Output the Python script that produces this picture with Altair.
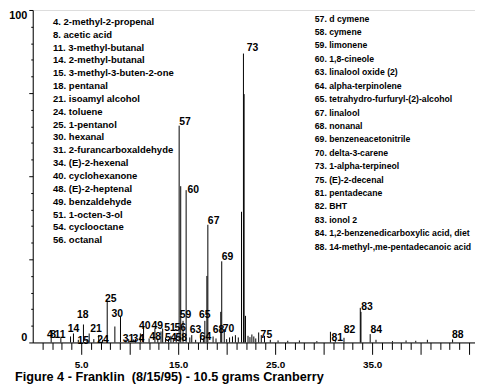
import altair as alt
import pandas as pd

# ---- data (retention time in minutes, relative abundance %) ----
peak_rt = [1.9, 2.9, 3.9, 4.2, 4.7, 5.23, 5.6, 5.82, 6.3, 6.8, 7.2, 7.68, 8.47, 9.05,
           9.6, 9.9, 10.6, 11.1, 11.43, 12.0, 12.6, 12.9, 13.23, 13.4, 13.7, 14.0,
           14.25, 14.5, 14.8, 15.1, 15.26, 15.5, 15.82, 16.2, 16.4, 16.8, 17.3, 17.6,
           17.75, 17.96, 18.06, 18.6, 18.9, 19.39, 19.49, 19.75, 20.0, 20.3, 20.6,
           20.9, 21.2, 21.53, 21.73, 21.8, 21.94, 22.2, 22.4, 22.6, 22.8, 23.0, 23.3,
           23.57, 23.9, 24.5, 25.3, 26.3, 27.5, 29.3, 30.7, 31.2, 32.1, 33.78, 33.85,
           34.8, 35.4, 37.1, 38.5, 39.5, 40.7, 43.3]
peak_h = [1.5, 1.3, 1.8, 2.7, 0.8, 5.4, 0.8, 2.7, 1.0, 2.2, 0.8, 12.6, 4.8, 7.7,
          0.8, 1.0, 1.0, 2.7, 4.8, 1.2, 4.2, 1.2, 3.3, 4.2, 1.5, 1.0,
          2.0, 1.2, 2.2, 65.2, 47.0, 6.5, 45.8, 1.5, 2.2, 0.8, 1.8, 1.2,
          6.5, 20.0, 35.4, 1.8, 1.2, 9.2, 24.4, 4.0, 1.0, 1.5, 1.8,
          2.2, 1.5, 39.3, 86.9, 74.7, 8.0, 2.0, 1.6, 2.4, 1.8, 1.2, 3.0,
          2.2, 2.0, 0.8, 0.6, 0.5, 0.6, 0.4, 3.2, 0.6, 1.4, 10.4, 9.2,
          2.5, 0.8, 0.4, 0.6, 0.5, 0.8, 0.9]

label_txt = ["4", "8", "11", "14", "15", "18", "21", "24", "25", "30", "31", "34",
             "40", "48", "49", "51", "54", "56", "57", "58", "59", "60", "63", "64",
             "65", "67", "68", "69", "70", "73", "75", "81", "82", "83", "84", "88"]
label_rt = [1.46, 1.8, 2.24, 3.6, 4.62, 4.56, 5.92, 6.66, 7.45, 8.13, 9.29, 10.3,
            10.95, 12.04, 12.25, 13.57, 13.64, 14.62, 15.1, 14.72, 15.17, 15.95, 16.19, 17.21,
            17.14, 18.06, 18.57, 19.49, 19.6, 22.07, 23.5, 30.8, 32.07, 33.88, 34.83, 43.23]
label_lvl = [1.2, 1.2, 1.2, 3.0, -0.5, 7.4, 3.0, -0.3, 12.3, 7.8, 0.2, 0.2,
             4.0, 0.7, 4.0, 3.5, 0.4, 3.5, 65.5, 0.4, 7.3, 45.1, 2.7, 0.7,
             7.3, 35.7, 2.7, 24.8, 3.0, 87.7, 1.4, 0.4, 2.7, 9.8, 2.7, 1.2]

legend_left = ["4. 2-methyl-2-propenal", "8. acetic acid", "11. 3-methyl-butanal",
               "14. 2-methyl-butanal", "15. 3-methyl-3-buten-2-one", "18. pentanal",
               "21. isoamyl alcohol", "24. toluene", "25. 1-pentanol", "30. hexanal",
               "31. 2-furancarboxaldehyde", "34. (E)-2-hexenal", "40. cyclohexanone",
               "48. (E)-2-heptenal", "49. benzaldehyde", "51. 1-octen-3-ol",
               "54. cyclooctane", "56. octanal"]
legend_right = ["57. d cymene", "58. cymene", "59. limonene", "60. 1,8-cineole",
                "63. linalool oxide (2)", "64. alpha-terpinolene",
                "65. tetrahydro-furfuryl-(2)-alcohol", "67. linalool", "68. nonanal",
                "69. benzeneacetonitrile", "70. delta-3-carene", "73. 1-alpha-terpineol",
                "75. (E)-2-decenal", "81. pentadecane", "82. BHT", "83. ionol 2",
                "84. 1,2-benzenedicarboxylic acid, diet",
                "88. 14-methyl-,me-pentadecanoic acid"]

caption = "Figure 4 - Franklin \u00a0(8/15/95) - 10.5 grams Cranberry"

x_ticks = list(range(1, 46))
x_labelled = [5, 15, 25, 35]
y_ticks = list(range(0, 101, 5))

# ---- chart ----
FONT = "Liberation Sans, Arial, sans-serif"
W, H = 447, 336
XMAX = 45.61

xs = alt.Scale(domain=[0, XMAX], nice=False, zero=False)
ys = alt.Scale(domain=[0, 100], nice=False, zero=False)

peaks_df = pd.DataFrame({"rt": peak_rt, "h": peak_h})
labels_df = pd.DataFrame({"id": label_txt, "rt": label_rt, "lvl": label_lvl})
legL_df = pd.DataFrame({"t": legend_left, "row": list(range(len(legend_left))), "col": 0})
legR_df = pd.DataFrame({"t": legend_right, "row": list(range(len(legend_right))), "col": 1})

lab_test = " || ".join(f"datum.value === {v}" for v in x_labelled)

x_axis = alt.Axis(
    values=x_ticks, grid=False, title=None, labelAngle=0,
    labelExpr=f"({lab_test}) ? format(datum.value, '.1f') : ''",
    tickSize={"condition": {"test": "datum.value % 5 === 0", "value": 12}, "value": 7},
    labelPadding=5, labelFlush=False, labelOverlap=False,
    labelFont=FONT, labelFontSize=10, labelFontWeight="bold", labelColor="black",
    domainColor="black", tickColor="black", domainWidth=1, tickWidth=1,
)
y_axis = alt.Axis(
    values=y_ticks, grid=False, title=None,
    labelExpr="datum.value === 0 || datum.value === 100 ? datum.label : ''",
    tickSize={"condition": {"test": "datum.value % 25 === 0", "value": 4}, "value": 2},
    labelPadding=2, labelFlush=True, labelOverlap=False,
    labelFont=FONT, labelFontSize=11, labelFontWeight="bold", labelColor="black",
    domainColor="black", tickColor="black", domainWidth=1, tickWidth=1,
)

peaks = alt.Chart(peaks_df).mark_rule(color="black", strokeWidth=1).encode(
    x=alt.X("rt:Q", scale=xs, axis=x_axis),
    y=alt.Y("h:Q", scale=ys, axis=y_axis),
    y2=alt.Y2(datum=0),
)

plabels = alt.Chart(labels_df).mark_text(
    align="left", baseline="alphabetic", font=FONT, fontSize=10.5,
    fontWeight="bold", color="black",
).encode(
    x=alt.X("rt:Q", scale=xs, axis=None),
    y=alt.Y("lvl:Q", scale=ys, axis=None),
    text="id:N",
)

def legend_layer(df, y_top, y_bot, size):
    return alt.Chart(df).mark_text(
        align="left", baseline="middle", font=FONT, fontSize=size,
        fontWeight="bold", color="black",
    ).encode(
        x=alt.X("col:Q", scale=alt.Scale(domain=[0, 1], range=[20.5, 285]), axis=None),
        y=alt.Y("row:Q", scale=alt.Scale(domain=[0, 17], range=[y_top, y_bot]), axis=None),
        text="t:N",
    )

legL = legend_layer(legL_df, 12, 232.7, 9.6)
legR = legend_layer(legR_df, 8.7, 239.3, 8.8)

chart = alt.layer(peaks, plabels, legL, legR).resolve_scale(
    x="independent", y="independent"
).properties(
    width=W, height=H,
    padding={"left": 25, "top": 0, "right": 0, "bottom": 42},
    autosize=alt.AutoSizeParams(type="none"),
    title=alt.TitleParams(
        text=caption, orient="bottom", anchor="start", frame="group",
        dx=-18, offset=2, font=FONT, fontSize=12.8, fontWeight="bold", color="black",
    ),
).configure_view(stroke=None).configure(background="white")

chart.save("out.html", embed_options={"renderer": "svg", "actions": False})
